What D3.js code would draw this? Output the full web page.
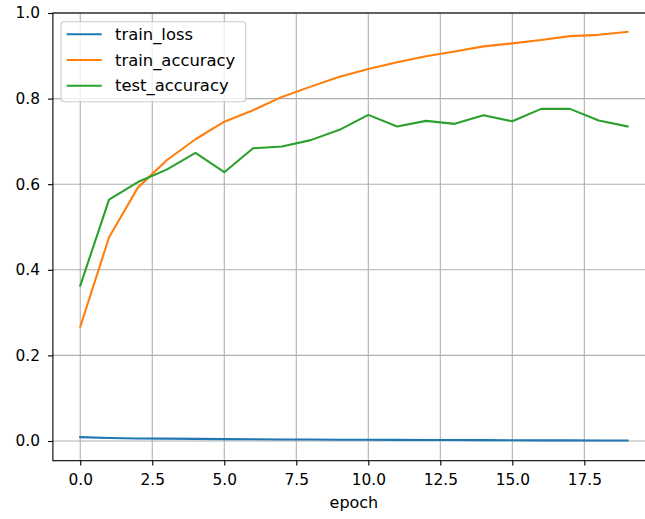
<!DOCTYPE html>
<html>
<head>
<meta charset="utf-8">
<script src="https://cdn.jsdelivr.net/npm/d3@7"></script>
<style>
  body { margin: 0; background: white; }
  svg { display: block; font-family: "DejaVu Sans", sans-serif; }
</style>
</head>
<body>
<div id="chart"></div>
<script>
// epochs 0..19
const epochs = d3.range(20);

const trainLoss = [0.009, 0.007, 0.006, 0.0055, 0.005, 0.0045, 0.004, 0.0037, 0.0034, 0.0031,
  0.0028, 0.0026, 0.0024, 0.0022, 0.002, 0.0018, 0.0016, 0.0014, 0.0013, 0.0012];
const trainAccuracy = [0.267, 0.476, 0.592, 0.656, 0.705, 0.746, 0.773, 0.804, 0.828, 0.851,
  0.869, 0.885, 0.899, 0.910, 0.922, 0.929, 0.937, 0.946, 0.949, 0.956];
const testAccuracy = [0.363, 0.564, 0.605, 0.634, 0.673, 0.628, 0.684, 0.688, 0.703, 0.727,
  0.762, 0.735, 0.748, 0.741, 0.761, 0.747, 0.776, 0.776, 0.749, 0.735];

const xTicks = [0, 2.5, 5, 7.5, 10, 12.5, 15, 17.5];
const yTicks = [0, 0.2, 0.4, 0.6, 0.8, 1.0];

const series = [
  { name: "train_loss", values: trainLoss, color: "#1f77b4" },
  { name: "train_accuracy", values: trainAccuracy, color: "#ff7f0e" },
  { name: "test_accuracy", values: testAccuracy, color: "#2ca02c" }
];

const width = 645, height = 519;
const margin = { top: 13, left: 52.9, bottom: 460.7, right: 654.9 };

const svg = d3.select("#chart").append("svg")
  .attr("width", width)
  .attr("height", height);

const x = d3.scaleLinear().domain([-0.95, 19.95]).range([margin.left, margin.right]);
const y = d3.scaleLinear().domain([-0.046, 1.0]).range([margin.bottom, margin.top]);

// grid
const grid = svg.append("g");
grid.selectAll(".vgrid").data(xTicks).join("line")
  .attr("x1", d => x(d)).attr("x2", d => x(d))
  .attr("y1", margin.top).attr("y2", margin.bottom)
  .attr("stroke", "#b0b0b0").attr("stroke-width", 1.1);
grid.selectAll(".hgrid").data(yTicks).join("line")
  .attr("x1", margin.left).attr("x2", margin.right)
  .attr("y1", d => y(d)).attr("y2", d => y(d))
  .attr("stroke", "#b0b0b0").attr("stroke-width", 1.1);

// lines
const line = d3.line().x((d, i) => x(epochs[i])).y(d => y(d));
svg.append("g").selectAll("path").data(series).join("path")
  .attr("d", d => line(d.values))
  .attr("fill", "none")
  .attr("stroke", d => d.color)
  .attr("stroke-width", 2.1)
  .attr("stroke-linejoin", "round")
  .attr("stroke-linecap", "square");

// axes
const xAxis = d3.axisBottom(x).tickValues(xTicks).tickFormat(d3.format(".1f"))
  .tickSize(4.9).tickPadding(8.5);
const yAxis = d3.axisLeft(y).tickValues(yTicks).tickFormat(d3.format(".1f"))
  .tickSize(4.9).tickPadding(8);

const gx = svg.append("g").attr("transform", `translate(0,${margin.bottom})`).call(xAxis);
const gy = svg.append("g").attr("transform", `translate(${margin.left},0)`).call(yAxis);
[gx, gy].forEach(g => {
  g.select(".domain").remove();
  g.selectAll(".tick line").attr("stroke", "#000").attr("stroke-width", 1.1);
  g.selectAll(".tick text").attr("fill", "#000")
    .style("font-size", "15.4px").style("font-family", "DejaVu Sans, sans-serif");
});

// spines
svg.append("rect")
  .attr("x", margin.left).attr("y", margin.top)
  .attr("width", margin.right - margin.left).attr("height", margin.bottom - margin.top)
  .attr("fill", "none").attr("stroke", "#000").attr("stroke-width", 1.1);

svg.append("text")
  .attr("x", (margin.left + margin.right) / 2)
  .attr("y", 508)
  .attr("text-anchor", "middle")
  .style("font-size", "16px")
  .text("epoch");

// legend
const legend = svg.append("g").attr("transform", "translate(61,21.7)");
legend.append("rect")
  .attr("width", 184.7).attr("height", 80)
  .attr("rx", 3).attr("ry", 3)
  .attr("fill", "white").attr("fill-opacity", 0.8)
  .attr("stroke", "#cccccc").attr("stroke-width", 1.1);
const items = legend.selectAll(".item").data(series).join("g")
  .attr("transform", (d, i) => `translate(0,${12.6 + i * 25.7})`);
items.append("line")
  .attr("x1", 5.7).attr("x2", 40.7)
  .attr("stroke", d => d.color).attr("stroke-width", 2.1);
items.append("text")
  .attr("x", 54)
  .attr("dy", "0.35em")
  .style("font-size", "16.4px")
  .text(d => d.name);
</script>
</body>
</html>
